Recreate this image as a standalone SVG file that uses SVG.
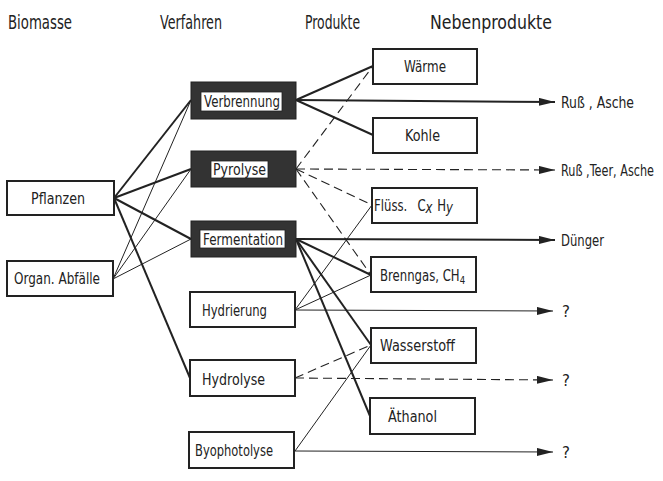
<svg xmlns="http://www.w3.org/2000/svg" width="663" height="481" viewBox="0 0 663 481">
<style>
text{font-family:"DejaVu Sans","Liberation Sans",sans-serif;fill:#222}
.h{font-size:20px}
.t{font-size:15px}
.box{fill:#fff;stroke:#222;stroke-width:2}
.dark{fill:#333;stroke:#222;stroke-width:1}
.inner{fill:#fff;stroke:#222;stroke-width:0.8}
.thick{stroke:#222;stroke-width:2;fill:none}
.thin{stroke:#222;stroke-width:1;fill:none}
.dash{stroke:#222;stroke-width:1.1;fill:none;stroke-dasharray:9 5}
</style>
<defs>
<marker id="ar" viewBox="0 0 16 8" refX="16" refY="4" markerWidth="16" markerHeight="8" markerUnits="userSpaceOnUse" orient="auto">
<path d="M0,0 L16,4 L0,8 Z" fill="#222"/>
</marker>
</defs>
<rect width="663" height="481" fill="#fff"/>
<g id="headers">
<text class="h" x="8" y="29" textLength="64" lengthAdjust="spacingAndGlyphs">Biomasse</text>
<text class="h" x="160" y="29" textLength="62" lengthAdjust="spacingAndGlyphs">Verfahren</text>
<text class="h" x="305" y="29" textLength="55" lengthAdjust="spacingAndGlyphs">Produkte</text>
<text class="h" x="430" y="29" textLength="122" lengthAdjust="spacingAndGlyphs">Nebenprodukte</text>
</g>
<g id="connectors">
<line class="thick" x1="114" y1="198" x2="191" y2="100"/>
<line class="thick" x1="114" y1="198" x2="191" y2="169"/>
<line class="thick" x1="114" y1="198" x2="191" y2="239"/>
<line class="thick" x1="114" y1="198" x2="190" y2="378"/>
<line class="thin" x1="113" y1="279" x2="191" y2="100"/>
<line class="thin" x1="113" y1="279" x2="191" y2="169"/>
<line class="thin" x1="113" y1="279" x2="191" y2="239"/>
<line class="thick" x1="296" y1="100" x2="373" y2="66"/>
<line class="thick" x1="296" y1="100" x2="373" y2="135"/>
<line class="thick" x1="296" y1="100" x2="555" y2="102" marker-end="url(#ar)"/>
<line class="dash" x1="296" y1="169" x2="373" y2="66"/>
<line class="dash" x1="296" y1="169" x2="372" y2="205"/>
<line class="dash" x1="296" y1="169" x2="371" y2="275"/>
<line class="dash" x1="296" y1="169" x2="555" y2="170" marker-end="url(#ar)"/>
<line class="thick" x1="296" y1="239" x2="371" y2="275"/>
<line class="thick" x1="296" y1="239" x2="371" y2="345"/>
<line class="thick" x1="296" y1="239" x2="370" y2="416"/>
<line class="thick" x1="296" y1="239" x2="555" y2="240" marker-end="url(#ar)"/>
<line class="thin" x1="295" y1="310" x2="372" y2="205"/>
<line class="thin" x1="295" y1="310" x2="371" y2="275"/>
<line class="thin" x1="295" y1="310" x2="553" y2="311" marker-end="url(#ar)"/>
<line class="dash" x1="295" y1="378" x2="371" y2="345"/>
<line class="dash" x1="295" y1="378" x2="553" y2="380" marker-end="url(#ar)"/>
<line class="thin" x1="295" y1="451" x2="371" y2="345"/>
<line class="thin" x1="295" y1="451" x2="553" y2="452" marker-end="url(#ar)"/>
</g>
<g id="pflanzen"><rect class="box" x="7" y="181" width="107" height="34"/><text class="t" x="31" y="204" textLength="54" lengthAdjust="spacingAndGlyphs">Pflanzen</text></g>
<g id="abfaelle"><rect class="box" x="7" y="261" width="106" height="35"/><text class="t" x="14" y="284" textLength="86" lengthAdjust="spacingAndGlyphs">Organ. Abfälle</text></g>
<g id="verbrennung"><rect class="dark" x="191" y="82" width="105" height="37"/><rect class="inner" x="201" y="92" width="81" height="19"/><text class="t" x="204" y="107" textLength="76" lengthAdjust="spacingAndGlyphs">Verbrennung</text></g>
<g id="pyrolyse"><rect class="dark" x="191" y="151" width="105" height="36"/><rect class="inner" x="211" y="161" width="57" height="17"/><text class="t" x="213" y="175" textLength="53" lengthAdjust="spacingAndGlyphs">Pyrolyse</text></g>
<g id="fermentation"><rect class="dark" x="191" y="221" width="105" height="36"/><rect class="inner" x="200" y="230" width="85" height="18"/><text class="t" x="203" y="245" textLength="80" lengthAdjust="spacingAndGlyphs">Fermentation</text></g>
<g id="hydrierung"><rect class="box" x="190" y="292" width="105" height="35"/><text class="t" x="202" y="316" textLength="65" lengthAdjust="spacingAndGlyphs">Hydrierung</text></g>
<g id="hydrolyse"><rect class="box" x="190" y="360" width="105" height="36"/><text class="t" x="202" y="385" textLength="63" lengthAdjust="spacingAndGlyphs">Hydrolyse</text></g>
<g id="byophotolyse"><rect class="box" x="189" y="432" width="105" height="36"/><text class="t" x="195" y="456" textLength="78" lengthAdjust="spacingAndGlyphs">Byophotolyse</text></g>
<g id="waerme"><rect class="box" x="373" y="49" width="104" height="35"/><text class="t" x="404" y="72" textLength="42" lengthAdjust="spacingAndGlyphs">Wärme</text></g>
<g id="kohle"><rect class="box" x="373" y="118" width="104" height="35"/><text class="t" x="405" y="141" textLength="35" lengthAdjust="spacingAndGlyphs">Kohle</text></g>
<g id="fluess"><rect class="box" x="372" y="188" width="105" height="35"/><text class="t" transform="matrix(0.78 0 0 1 374 211)">Flüss.<tspan dx="13">C</tspan><tspan font-style="italic" dy="2">x</tspan><tspan dx="6" dy="-2">H</tspan><tspan font-style="italic" dy="2">y</tspan></text></g>
<g id="brenngas"><rect class="box" x="371" y="257" width="105" height="35"/><text class="t" transform="matrix(0.78 0 0 1 380 281)">Brenngas, CH<tspan font-size="11" dy="3">4</tspan></text></g>
<g id="wasserstoff"><rect class="box" x="371" y="328" width="105" height="35"/><text class="t" x="380" y="351" textLength="75" lengthAdjust="spacingAndGlyphs">Wasserstoff</text></g>
<g id="aethanol"><rect class="box" x="370" y="398" width="105" height="36"/><text class="t" x="388" y="422" textLength="49" lengthAdjust="spacingAndGlyphs">Äthanol</text></g>
<g id="nebenprodukte">
<text class="t" x="561" y="108" textLength="73" lengthAdjust="spacingAndGlyphs">Ruß , Asche</text>
<text class="t" transform="matrix(0.75 0 0 1 561 176)">Ruß ,Teer, Asche</text>
<text class="t" x="561" y="246" textLength="43" lengthAdjust="spacingAndGlyphs">Dünger</text>
<text class="t" x="562" y="317">?</text>
<text class="t" x="562" y="386">?</text>
<text class="t" x="562" y="458">?</text>
</g>
</svg>
